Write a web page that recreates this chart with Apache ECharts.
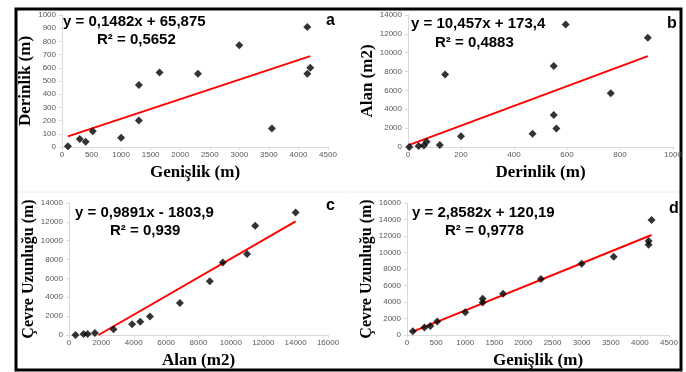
<!DOCTYPE html>
<html>
<head>
<meta charset="utf-8">
<script src="https://cdn.jsdelivr.net/npm/echarts@6/dist/echarts.min.js"></script>
<style>html,body{margin:0;padding:0;background:#fff}#c{width:686px;height:372px}</style>
</head>
<body>
<div id="c"></div>
<script>
// Panel a: Genişlik vs Derinlik
const widthA = [100,300,400,520,1000,1300,1300,1650,2300,3000,3550,4150,4150,4200];
const depthA = [5,60,40,120,70,470,200,565,555,770,140,910,555,600];
// Panel b: Derinlik vs Alan
const depthB = [5,40,60,70,120,140,200,470,550,550,560,595,765,905];
const areaB  = [0,100,150,550,200,7700,1150,1400,8600,3400,1950,13000,5700,11600];
// Panel c: Alan vs Çevre Uzunluğu
const areaC  = [400,900,1150,1600,2750,3900,4400,5000,6850,8700,9500,11000,11500,14000];
const perimC = [0,100,100,200,600,1150,1400,1950,3400,5700,7700,8600,11600,13000];
// Panel d: Genişlik vs Çevre Uzunluğu
const widthD = [100,300,400,520,1000,1300,1300,1650,2300,3000,3550,4150,4150,4200];
const perimD = [450,900,1100,1650,2750,4400,3950,5000,6800,8650,9500,11400,10950,13950];

const slopes = [0.1482, 10.457, 0.9891, 2.8582];
const intercepts = [65.875, 173.4, -1803.9, 120.19];
const equations = ['y = 0,1482x + 65,875','y = 10,457x + 173,4','y = 0,9891x - 1803,9','y = 2,8582x + 120,19'];
const r2Texts = ['R² = 0,5652','R² = 0,4883','R² = 0,939','R² = 0,9778'];
const panelLetters = ['a','b','c','d'];
const xTitles = ['Genişlik (m)','Derinlik (m)','Alan (m2)','Genişlik (m)'];
const yTitles = ['Derinlik (m)','Alan (m2)','Çevre Uzunluğu (m)','Çevre Uzunluğu (m)'];
const xMax = [4500,1000,16000,4500], xStep = [500,200,2000,500];
const yMax = [1000,14000,14000,16000], yStep = [100,2000,2000,2000];

const xs = [widthA, depthB, areaC, widthD];
const ys = [depthA, areaB, perimC, perimD];

const grids = [
  {left:62, top:15, width:266, height:132},
  {left:408, top:15, width:265, height:132},
  {left:69, top:203, width:259, height:132},
  {left:407, top:203, width:262, height:132}
];
const eqPos = [[63,22,97,40],[411,24,435,43],[75,213,110,231],[412,213,445,231]];
const letterPos = [[326,21],[667,24],[326,206],[669,209]];
const yNameSize = [17,17,16,16];
const yNameGap = [21,25,25,24];
const xNameGap = [17,17,17,17];

const axisCommon = {
  type:'value',
  axisLine:{show:true, lineStyle:{color:'#d9d9d9', width:1}},
  axisTick:{show:true, length:3, lineStyle:{color:'#d9d9d9'}},
  splitLine:{show:false},
  nameLocation:'middle'
};
const labelStyle = (margin) => ({fontSize:8, color:'#595959', fontFamily:'Liberation Sans', margin:margin, formatter:(v)=>String(v)});

const xAxes = [], yAxes = [], series = [], graphics = [];
for (let i=0;i<4;i++){
  xAxes.push(Object.assign({}, axisCommon, {gridIndex:i, min:0, max:xMax[i], interval:xStep[i], name:xTitles[i], nameGap:xNameGap[i],
    nameTextStyle:{fontFamily:'Liberation Serif', fontWeight:'bold', fontSize:17, color:'#000'},
    axisLabel:labelStyle(4)}));
  yAxes.push(Object.assign({}, axisCommon, {gridIndex:i, min:0, max:yMax[i], interval:yStep[i], name:yTitles[i], nameGap:yNameGap[i],
    nameTextStyle:{fontFamily:'Liberation Serif', fontWeight:'bold', fontSize:yNameSize[i], color:'#000'},
    axisLabel:labelStyle(6)}));
  const pts = xs[i].map((x,k)=>[x, ys[i][k]]);
  const m = slopes[i], b = intercepts[i];
  let x0 = Math.min(...xs[i]), x1 = Math.max(...xs[i]);
  if (m*x0+b < 0) x0 = -b/m;
  series.push({type:'line', xAxisIndex:i, yAxisIndex:i, data:[[x0,m*x0+b],[x1,m*x1+b]], symbol:'none',
    lineStyle:{color:'#ff0000', width:2}, silent:true, z:2});
  series.push({type:'scatter', xAxisIndex:i, yAxisIndex:i, data:pts, symbol:'diamond', symbolSize:8,
    itemStyle:{color:'#000'}, z:3});
  const p = eqPos[i];
  graphics.push({type:'text', x:p[0], y:p[1], style:{text:equations[i], font:'bold 15px "Liberation Sans"', fill:'#000', verticalAlign:'middle'}});
  graphics.push({type:'text', x:p[2], y:p[3], style:{text:r2Texts[i], font:'bold 15px "Liberation Sans"', fill:'#000', verticalAlign:'middle'}});
  graphics.push({type:'text', x:letterPos[i][0], y:letterPos[i][1], style:{text:panelLetters[i], font:'bold 16px "Liberation Sans"', fill:'#000', verticalAlign:'middle'}});
}
graphics.push({type:'line', shape:{x1:18, y1:192, x2:679, y2:192}, style:{stroke:'#eeeeee', lineWidth:1}});
graphics.push({type:'rect', shape:{x:16, y:9, width:665, height:361}, style:{fill:'none', stroke:'#000', lineWidth:3}});

const chart = echarts.init(document.getElementById('c'));
chart.setOption({
  animation:false,
  grid:grids,
  xAxis:xAxes,
  yAxis:yAxes,
  series:series,
  graphic:graphics
});
</script>
</body>
</html>
